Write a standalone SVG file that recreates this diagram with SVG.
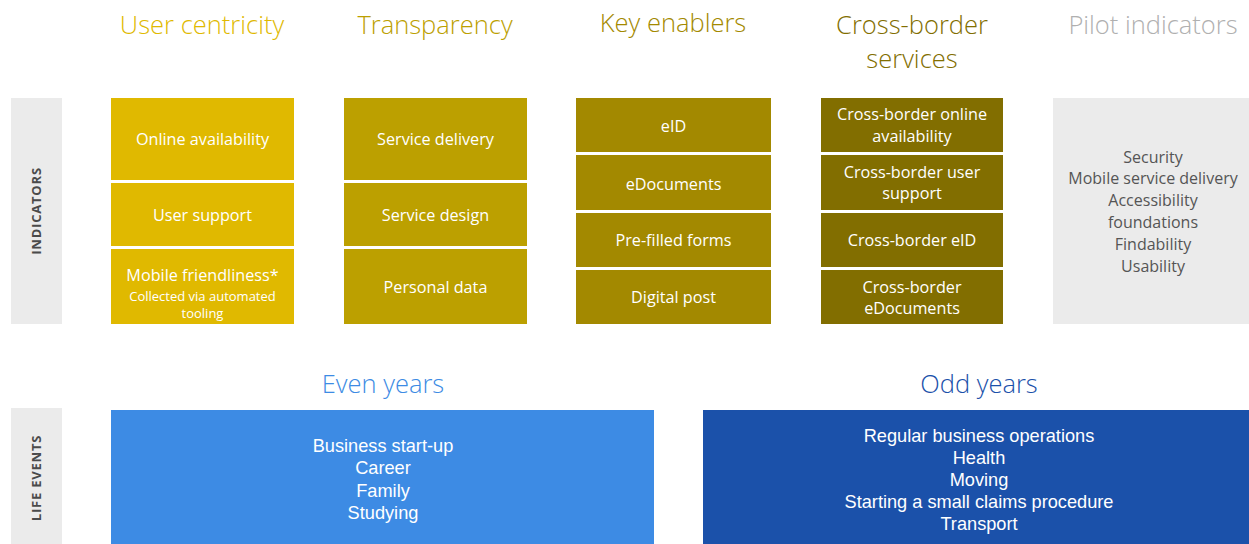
<svg xmlns="http://www.w3.org/2000/svg" width="1249" height="544" viewBox="0 0 1249 544">
  <style>
    text { font-family: "Open Sans", "Noto Sans", sans-serif; text-anchor: middle; dominant-baseline: central; }
    .head { font-size: 25.5px; font-weight: 300; }
    .lbl { fill: #ffffff; font-size: 16.2px; }
    .small { fill: #ffffff; font-size: 13px; }
    .side { fill: #4a4a4a; font-size: 13px; font-weight: 700; letter-spacing: 0.8px; }
    .pilot { fill: #555555; font-size: 16px; }
    .life { fill: #ffffff; font-family: "Liberation Sans", Arial, sans-serif; font-size: 18.2px; }
    .c1 { fill: #e0b900; }
    .c2 { fill: #bca000; }
    .c3 { fill: #a38900; }
    .c4 { fill: #826e00; }
    .grey { fill: #ebebeb; }
  </style>

  <!-- column headings -->
  <g id="headings">
    <text class="head" x="202" y="24" fill="#e0b900">User centricity</text>
    <text class="head" x="435" y="24" fill="#bca000">Transparency</text>
    <text class="head" x="673" y="22" fill="#a38900">Key enablers</text>
    <text class="head" x="912" y="24" fill="#826e00">Cross-border</text>
    <text class="head" x="912" y="58" fill="#826e00">services</text>
    <text class="head" x="1153" y="24" fill="#b0b0b0">Pilot indicators</text>
  </g>

  <!-- row labels -->
  <g id="indicators-label">
    <rect class="grey" x="11" y="98" width="51" height="226"/>
    <text class="side" transform="translate(36 211) rotate(-90)">INDICATORS</text>
  </g>
  <g id="life-events-label">
    <rect class="grey" x="11" y="408" width="51" height="136"/>
    <text class="side" transform="translate(36 478) rotate(-90)">LIFE EVENTS</text>
  </g>

  <!-- User centricity -->
  <g id="user-centricity">
    <rect class="c1" x="111" y="98" width="183" height="82"/>
    <text class="lbl" x="202.5" y="139">Online availability</text>
    <rect class="c1" x="111" y="183" width="183" height="63"/>
    <text class="lbl" x="202.5" y="215">User support</text>
    <rect class="c1" x="111" y="249" width="183" height="75"/>
    <text class="lbl" x="202.5" y="275">Mobile friendliness*</text>
    <text class="small" x="202.5" y="296">Collected via automated</text>
    <text class="small" x="202.5" y="313">tooling</text>
  </g>

  <!-- Transparency -->
  <g id="transparency">
    <rect class="c2" x="344" y="98" width="183" height="82"/>
    <text class="lbl" x="435.5" y="139">Service delivery</text>
    <rect class="c2" x="344" y="183" width="183" height="63"/>
    <text class="lbl" x="435.5" y="215">Service design</text>
    <rect class="c2" x="344" y="249" width="183" height="75"/>
    <text class="lbl" x="435.5" y="287">Personal data</text>
  </g>

  <!-- Key enablers -->
  <g id="key-enablers">
    <rect class="c3" x="576" y="98" width="195" height="54"/>
    <text class="lbl" x="673.5" y="126">eID</text>
    <rect class="c3" x="576" y="155" width="195" height="55"/>
    <text class="lbl" x="673.5" y="184">eDocuments</text>
    <rect class="c3" x="576" y="213" width="195" height="54"/>
    <text class="lbl" x="673.5" y="240">Pre-filled forms</text>
    <rect class="c3" x="576" y="270" width="195" height="54"/>
    <text class="lbl" x="673.5" y="297">Digital post</text>
  </g>

  <!-- Cross-border services -->
  <g id="cross-border">
    <rect class="c4" x="821" y="98" width="182" height="54"/>
    <text class="lbl" x="912" y="114">Cross-border online</text>
    <text class="lbl" x="912" y="136">availability</text>
    <rect class="c4" x="821" y="155" width="182" height="55"/>
    <text class="lbl" x="912" y="172">Cross-border user</text>
    <text class="lbl" x="912" y="193">support</text>
    <rect class="c4" x="821" y="213" width="182" height="54"/>
    <text class="lbl" x="912" y="240">Cross-border eID</text>
    <rect class="c4" x="821" y="270" width="182" height="54"/>
    <text class="lbl" x="912" y="287">Cross-border</text>
    <text class="lbl" x="912" y="308">eDocuments</text>
  </g>

  <!-- Pilot indicators -->
  <g id="pilot-indicators">
    <rect class="grey" x="1053" y="98" width="196" height="226"/>
    <text class="pilot" x="1153" y="157">Security</text>
    <text class="pilot" x="1153" y="178">Mobile service delivery</text>
    <text class="pilot" x="1153" y="200">Accessibility</text>
    <text class="pilot" x="1153" y="222">foundations</text>
    <text class="pilot" x="1153" y="244">Findability</text>
    <text class="pilot" x="1153" y="266">Usability</text>
  </g>

  <!-- Life events: even years -->
  <g id="even-years">
    <text class="head" x="383" y="383" fill="#3d8be4">Even years</text>
    <rect x="111" y="410" width="543" height="134" fill="#3d8be4"/>
    <text class="life" x="383" y="446">Business start-up</text>
    <text class="life" x="383" y="468">Career</text>
    <text class="life" x="383" y="491">Family</text>
    <text class="life" x="383" y="513">Studying</text>
  </g>

  <!-- Life events: odd years -->
  <g id="odd-years">
    <text class="head" x="979" y="383" fill="#1b51aa">Odd years</text>
    <rect x="703" y="410" width="546" height="134" fill="#1b51aa"/>
    <text class="life" x="979" y="436">Regular business operations</text>
    <text class="life" x="979" y="458">Health</text>
    <text class="life" x="979" y="480">Moving</text>
    <text class="life" x="979" y="502">Starting a small claims procedure</text>
    <text class="life" x="979" y="524">Transport</text>
  </g>

  <!-- no connectors in this chart -->
  <g id="connectors"/>
</svg>
